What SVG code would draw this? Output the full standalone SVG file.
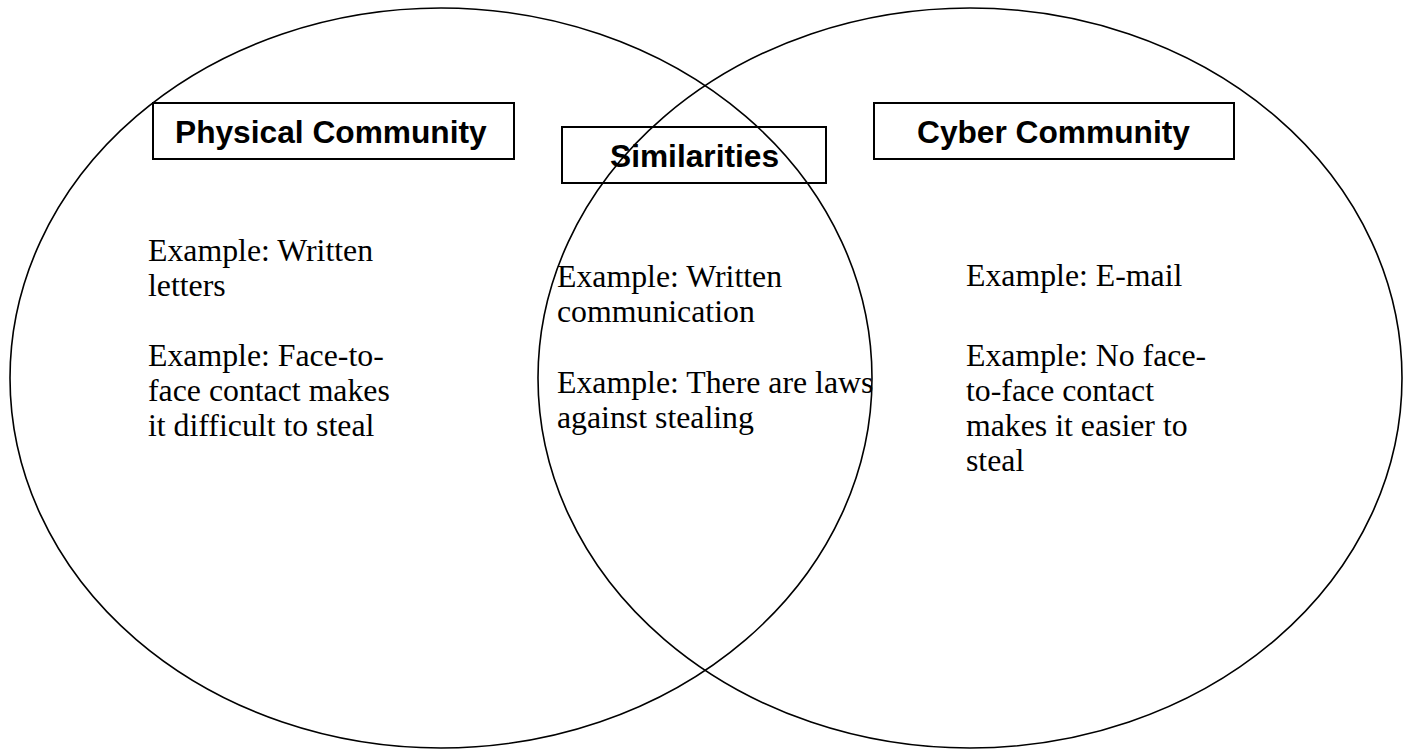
<svg xmlns="http://www.w3.org/2000/svg" width="1411" height="750" viewBox="0 0 1411 750">
<style>
.ring{fill:none;stroke:#000;stroke-width:1.6}
.box{fill:#fff;stroke:#000;stroke-width:2}
.hd{font-family:"Liberation Sans",Arial,sans-serif;font-weight:bold;font-size:31.7px;fill:#000}
.bd{font-family:"Liberation Serif","Times New Roman",serif;font-size:31.8px;fill:#000}
</style>
<rect width="1411" height="750" fill="#fff"/>
<g id="boxes">
<g id="physical-box"><rect class="box" x="153" y="103" width="361" height="56"/><text class="hd" x="175" y="143">Physical Community</text></g>
<g id="similarities-box"><rect class="box" x="562" y="127" width="264" height="56"/><text class="hd" x="610" y="167">Similarities</text></g>
<g id="cyber-box"><rect class="box" x="874" y="103" width="360" height="56"/><text class="hd" x="917" y="143">Cyber Community</text></g>
</g>
<g id="circles">
<ellipse id="physical" class="ring" cx="441" cy="378" rx="431" ry="370"/>
<ellipse id="cyber" class="ring" cx="970" cy="378" rx="432" ry="370"/>
</g>
<g id="physical-text" class="bd">
<text x="148" y="261">Example: Written</text>
<text x="148" y="296">letters</text>
<text x="148" y="366">Example: Face-to-</text>
<text x="148" y="401">face contact makes</text>
<text x="148" y="436">it difficult to steal</text>
</g>
<g id="similar-text" class="bd">
<text x="557" y="287">Example: Written</text>
<text x="557" y="322">communication</text>
<text x="557" y="393">Example: There are laws</text>
<text x="557" y="428">against stealing</text>
</g>
<g id="cyber-text" class="bd">
<text x="966" y="286">Example: E-mail</text>
<text x="966" y="366">Example: No face-</text>
<text x="966" y="401">to-face contact</text>
<text x="966" y="436">makes it easier to</text>
<text x="966" y="471">steal</text>
</g>
</svg>
